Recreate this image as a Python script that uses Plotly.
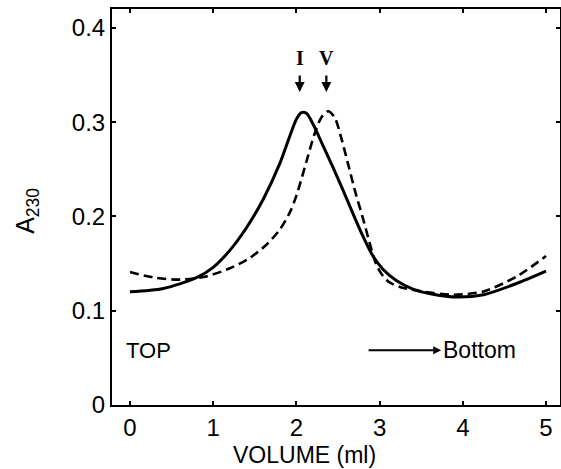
import plotly.graph_objects as go

# Data
vol_solid = [0, 0.4, 0.8, 1.0, 1.2, 1.4, 1.6, 1.8, 1.92, 2.0, 2.06, 2.12, 2.2, 2.32, 2.44, 2.56, 2.68, 2.8, 2.92, 3.04, 3.2, 3.4, 3.64, 3.93, 4.25, 4.65, 5.0]
a230_solid = [0.120, 0.1235, 0.135, 0.146, 0.164, 0.188, 0.218, 0.256, 0.285, 0.303, 0.310, 0.3095, 0.298, 0.275, 0.252, 0.228, 0.203, 0.179, 0.158, 0.144, 0.132, 0.123, 0.1175, 0.1145, 0.117, 0.129, 0.142]

vol_dash = [0, 0.3, 0.6, 0.9, 1.2, 1.44, 1.64, 1.8, 1.92, 2.0, 2.12, 2.22, 2.30, 2.38, 2.46, 2.54, 2.62, 2.72, 2.80, 2.88, 2.96, 3.04, 3.12, 3.25, 3.5, 3.89, 4.25, 4.65, 5.0]
a230_dash = [0.141, 0.135, 0.133, 0.136, 0.145, 0.156, 0.170, 0.186, 0.204, 0.222, 0.258, 0.288, 0.305, 0.3115, 0.305, 0.283, 0.256, 0.222, 0.198, 0.172, 0.149, 0.137, 0.130, 0.125, 0.1205, 0.117, 0.1205, 0.1365, 0.158]

x_ticks = [0, 1, 2, 3, 4, 5]
y_ticks = [0, 0.1, 0.2, 0.3, 0.4]
y_ticklabels = ["0", "0.1", "0.2", "0.3", "0.4"]

peak_labels = ["I", "V"]
peak_pos = [2.04, 2.36]

FONT = "Liberation Sans"

fig = go.Figure()
fig.add_trace(go.Scatter(x=vol_solid, y=a230_solid, mode="lines",
                         line=dict(color="black", width=3, shape="spline", smoothing=0.8),
                         showlegend=False, hoverinfo="skip"))
fig.add_trace(go.Scatter(x=vol_dash, y=a230_dash, mode="lines",
                         line=dict(color="black", width=2.6, shape="spline", smoothing=0.8, dash="9px,5px"),
                         showlegend=False, hoverinfo="skip"))

for lab, xp in zip(peak_labels, peak_pos):
    fig.add_annotation(x=xp, y=0.368, text="<b>%s</b>" % lab, showarrow=False,
                       font=dict(family="Liberation Serif", size=20, color="black"))
    fig.add_annotation(x=xp, y=0.332, ax=0, ay=-18, text="", showarrow=True,
                       arrowhead=2, arrowsize=0.9, arrowwidth=2.2, arrowcolor="black")

fig.add_annotation(x=-0.07, y=0.058, text="TOP", showarrow=False, xanchor="left",
                   font=dict(family=FONT, size=22, color="black"))
fig.add_annotation(x=3.74, y=0.058, text="Bottom", showarrow=False, xanchor="left",
                   font=dict(family=FONT, size=23, color="black"))
fig.add_annotation(x=3.74, y=0.058, ax=2.85, ay=0.058, axref="x", ayref="y",
                   text="", showarrow=True, arrowhead=2, arrowsize=0.8, arrowwidth=2,
                   arrowcolor="black")

# axis titles
fig.add_annotation(xref="paper", yref="paper", x=0.43, y=-0.125, yanchor="middle",
                   text="VOLUME (ml)", showarrow=False,
                   font=dict(family=FONT, size=23, color="black"))
fig.add_annotation(xref="paper", yref="paper", x=-0.19, y=0.49, xanchor="center",
                   text="A<sub>230</sub>", showarrow=False, textangle=-90,
                   font=dict(family=FONT, size=25, color="black"))

fig.update_layout(
    width=561, height=469,
    margin=dict(l=112, r=1, t=9, b=64),
    paper_bgcolor="white", plot_bgcolor="white",
    font=dict(family=FONT, size=24, color="black"),
    xaxis=dict(range=[-0.216, 5.168], tickvals=x_ticks, ticks="inside", ticklen=4,
               tickwidth=2, tickcolor="black", showline=True, linecolor="black",
               linewidth=2, mirror="ticks", showgrid=False, zeroline=False,
               tickfont=dict(size=24), automargin=False),
    yaxis=dict(range=[0, 0.42], tickvals=y_ticks, ticktext=y_ticklabels, ticks="inside",
               ticklen=4, tickwidth=2, tickcolor="black", showline=True,
               linecolor="black", linewidth=2, mirror="ticks", showgrid=False,
               zeroline=False, tickfont=dict(size=24), automargin=False),
)

fig.write_html("out.html", config={"displayModeBar": False},
               post_script="document.body.style.margin='0';document.body.style.overflow='hidden';")
